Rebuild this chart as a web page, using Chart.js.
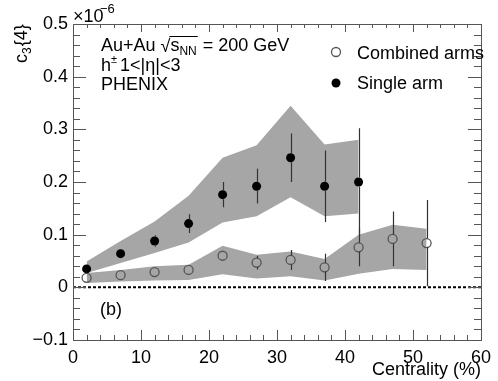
<!DOCTYPE html>
<html>
<head>
<meta charset="utf-8">
<script src="https://cdn.jsdelivr.net/npm/chart.js@4.4.0/dist/chart.umd.min.js"></script>
<style>
	html, body { margin: 0; padding: 0; background: #fff; }
	#wrap { width: 498px; height: 381px; }
</style>
</head>
<body>
<div id="wrap"><canvas id="c3Chart" width="498" height="381"></canvas></div>
<script>
// values (units of 1e-6)
const combinedX = [2, 7, 12, 17, 22, 27, 32, 37, 42, 47, 52];
const combinedY = [0.018, 0.023, 0.029, 0.033, 0.060, 0.047, 0.052, 0.038, 0.076, 0.092, 0.084];
const combinedErr = [0.004, 0.004, 0.004, 0.004, 0.007, 0.013, 0.019, 0.026, 0.036, 0.052, 0.082];
const combinedSysLow = [0.008, 0.011, 0.013, 0.014, 0.025, 0.017, 0.021, 0.013, 0.026, 0.035, 0.033];
const combinedSysHigh = [0.027, 0.033, 0.040, 0.043, 0.079, 0.062, 0.068, 0.054, 0.100, 0.119, 0.111];

const singleX = [2, 7, 12, 17, 22, 27, 32, 37, 42];
const singleY = [0.035, 0.064, 0.088, 0.121, 0.176, 0.192, 0.246, 0.192, 0.200];
const singleErr = [0.004, 0.009, 0.011, 0.018, 0.024, 0.033, 0.046, 0.068, 0.102];
const singleSysLow = [0.027, 0.046, 0.065, 0.085, 0.123, 0.135, 0.171, 0.135, 0.140];
const singleSysHigh = [0.049, 0.088, 0.125, 0.174, 0.246, 0.270, 0.345, 0.271, 0.280];

const xTickLabels = ['0', '10', '20', '30', '40', '50', '60'];
const yTickLabels = ['\u22120.1', '0', '0.1', '0.2', '0.3', '0.4', '0.5'];

const FONT = "'Liberation Sans', Arial, Helvetica, sans-serif";
const BAND = '#a6a6a6';
const MARKER_R = 4.5;

let toPoints = (xs, ys) => xs.map((x, i) => ({ x: x, y: ys[i] }));

// axis frame with inward ticks on all four sides
let axisFrame = {
	id: 'axisFrame',
	afterDraw (chart) {
		let { ctx, chartArea: a, scales: { x, y } } = chart;
		ctx.save();
		ctx.strokeStyle = '#555';
		ctx.lineWidth = 1;
		ctx.strokeRect(a.left + 0.5, a.top + 0.5, a.right - a.left, a.bottom - a.top);
		ctx.beginPath();
		for (let v = 0; v <= 60; v += 2) {
			let px = Math.round(x.getPixelForValue(v)) + 0.5;
			let major = v % 10 === 0;
			ctx.moveTo(px, a.bottom); ctx.lineTo(px, a.bottom - (major ? 10 : 5));
			ctx.moveTo(px, a.top); ctx.lineTo(px, a.top + (major ? 8 : 4));
		}
		for (let i = -5; i <= 25; i++) {
			let py = Math.round(y.getPixelForValue(i * 0.02)) + 0.5;
			let major = i % 5 === 0;
			ctx.moveTo(a.left, py); ctx.lineTo(a.left + (major ? 13 : 7), py);
			ctx.moveTo(a.right, py); ctx.lineTo(a.right - (major ? 13 : 7), py);
		}
		ctx.stroke();
		ctx.restore();
	},
};

// zero line + statistical error bars (gap at the marker)
let errorBars = {
	id: 'errorBars',
	afterDatasetsDraw (chart) {
		let { ctx, chartArea: a, scales: { x, y } } = chart;
		ctx.save();
		ctx.strokeStyle = '#000';
		ctx.lineWidth = 2;
		ctx.setLineDash([3, 2]);
		ctx.beginPath();
		ctx.moveTo(a.left, y.getPixelForValue(0));
		ctx.lineTo(a.right, y.getPixelForValue(0));
		ctx.stroke();
		ctx.setLineDash([]);

		ctx.strokeStyle = '#333';
		ctx.lineWidth = 1.2;
		let drawBars = (xs, ys, errs) => {
			xs.forEach((xv, i) => {
				let px = Math.round(x.getPixelForValue(xv)) + 0.5;
				let pc = y.getPixelForValue(ys[i]);
				let pt = y.getPixelForValue(ys[i] + errs[i]);
				let pb = y.getPixelForValue(ys[i] - errs[i]);
				ctx.beginPath();
				if (pc - pt > MARKER_R) { ctx.moveTo(px, pt); ctx.lineTo(px, pc - MARKER_R); }
				if (pb - pc > MARKER_R) { ctx.moveTo(px, pc + MARKER_R); ctx.lineTo(px, pb); }
				ctx.stroke();
			});
		};
		drawBars(combinedX, combinedY, combinedErr);
		drawBars(singleX, singleY, singleErr);
		ctx.restore();
	},
};

// texts: y title, exponent, labels, legend
let annotations = {
	id: 'annotations',
	afterDraw (chart) {
		let { ctx } = chart;
		ctx.save();
		ctx.fillStyle = '#000';
		ctx.textBaseline = 'alphabetic';
		ctx.textAlign = 'left';

		// y axis title c_3{4}
		ctx.save();
		ctx.translate(27, 63);
		ctx.rotate(-Math.PI / 2);
		ctx.font = '18px ' + FONT;
		ctx.fillText('c', 0, 0);
		let w = ctx.measureText('c').width;
		ctx.font = '12px ' + FONT;
		ctx.fillText('3', w, 4);
		w += ctx.measureText('3').width + 1;
		ctx.font = '18px ' + FONT;
		ctx.fillText('{4}', w, 0);
		ctx.restore();

		// x10^-6
		ctx.font = '18px ' + FONT;
		ctx.fillText('\u00d710', 73, 22);
		ctx.font = '13px ' + FONT;
		ctx.fillText('\u22126', 100, 13);

		// Au+Au sqrt(s_NN) = 200 GeV
		let bx = 101, by = 51;
		ctx.font = '18px ' + FONT;
		ctx.fillText('Au+Au ', bx, by);
		bx += ctx.measureText('Au+Au ').width;
		ctx.fillText('\u221a', bx, by + 1);
		let rootStart = bx + ctx.measureText('\u221a').width - 1;
		bx = rootStart + 1;
		ctx.fillText('s', bx, by);
		bx += ctx.measureText('s').width;
		ctx.font = '12px ' + FONT;
		ctx.fillText('NN', bx, by + 4);
		bx += ctx.measureText('NN').width;
		ctx.strokeStyle = '#000';
		ctx.lineWidth = 1;
		ctx.beginPath();
		ctx.moveTo(rootStart, by - 14.5);
		ctx.lineTo(bx + 1, by - 14.5);
		ctx.stroke();
		ctx.font = '18px ' + FONT;
		ctx.fillText(' = 200 GeV', bx + 1, by);

		// h+- 1<|eta|<3
		ctx.fillText('h', 101, 71);
		let hx = 101 + ctx.measureText('h').width;
		ctx.font = '11px ' + FONT;
		ctx.fillText('\u00b1', hx, 63);
		ctx.font = '18px ' + FONT;
		ctx.fillText(' 1<|\u03b7|<3', hx + 4, 71);

		ctx.fillText('PHENIX', 101, 90);
		ctx.fillText('(b)', 100, 315);

		// legend
		ctx.fillText('Combined arms', 357, 59);
		ctx.fillText('Single arm', 357, 89);
		ctx.beginPath();
		ctx.arc(336, 52, MARKER_R, 0, Math.PI * 2);
		ctx.strokeStyle = '#555';
		ctx.lineWidth = 1.3;
		ctx.stroke();
		ctx.beginPath();
		ctx.arc(336, 83, MARKER_R, 0, Math.PI * 2);
		ctx.fill();
		ctx.restore();
	},
};

let bandDataset = (xs, ys, fill) => ({
	data: toPoints(xs, ys),
	borderWidth: 0,
	borderColor: 'rgba(0,0,0,0)',
	backgroundColor: BAND,
	pointRadius: 0,
	fill: fill,
	tension: 0,
	order: 2,
});

let chartConfig = {
	type: 'line',
	data: {
		datasets: [
			bandDataset(singleX, singleSysHigh, '+1'),
			bandDataset(singleX, singleSysLow, false),
			bandDataset(combinedX, combinedSysHigh, '+1'),
			bandDataset(combinedX, combinedSysLow, false),
			{
				data: toPoints(combinedX, combinedY),
				showLine: false,
				pointRadius: MARKER_R,
				pointBackgroundColor: 'rgba(0,0,0,0)',
				pointBorderColor: '#555',
				pointBorderWidth: 1.3,
				order: 0,
			},
			{
				data: toPoints(singleX, singleY),
				showLine: false,
				pointRadius: MARKER_R,
				pointBackgroundColor: '#000',
				pointBorderColor: '#000',
				pointBorderWidth: 0,
				order: 0,
			},
		],
	},
	options: {
		responsive: false,
		animation: false,
		layout: { padding: { left: 0, right: 12, top: 24, bottom: 0 } },
		plugins: {
			legend: { display: false },
			tooltip: { enabled: false },
		},
		scales: {
			x: {
				type: 'linear',
				min: 0,
				max: 60,
				grid: { display: false, drawTicks: false },
				border: { display: false },
				ticks: {
					stepSize: 10,
					autoSkip: false,
					maxRotation: 0,
					padding: 7,
					color: '#000',
					font: { family: FONT, size: 18 },
					callback: (value, index) => xTickLabels[index],
				},
				title: {
					display: true,
					text: 'Centrality (%)',
					align: 'end',
					color: '#000',
					font: { family: FONT, size: 18 },
					padding: { top: 0, bottom: 0 },
				},
				afterFit (scale) { scale.height = 41; },
			},
			y: {
				type: 'linear',
				min: -0.1,
				max: 0.5,
				grid: { display: false, drawTicks: false },
				border: { display: false },
				ticks: {
					stepSize: 0.1,
					padding: 5,
					color: '#000',
					font: { family: FONT, size: 18 },
					callback: (value, index) => yTickLabels[index],
				},
				afterFit (scale) { scale.width = 73; },
			},
		},
	},
	plugins: [ errorBars, axisFrame, annotations ],
};

new Chart(document.getElementById('c3Chart'), chartConfig);
</script>
</body>
</html>
